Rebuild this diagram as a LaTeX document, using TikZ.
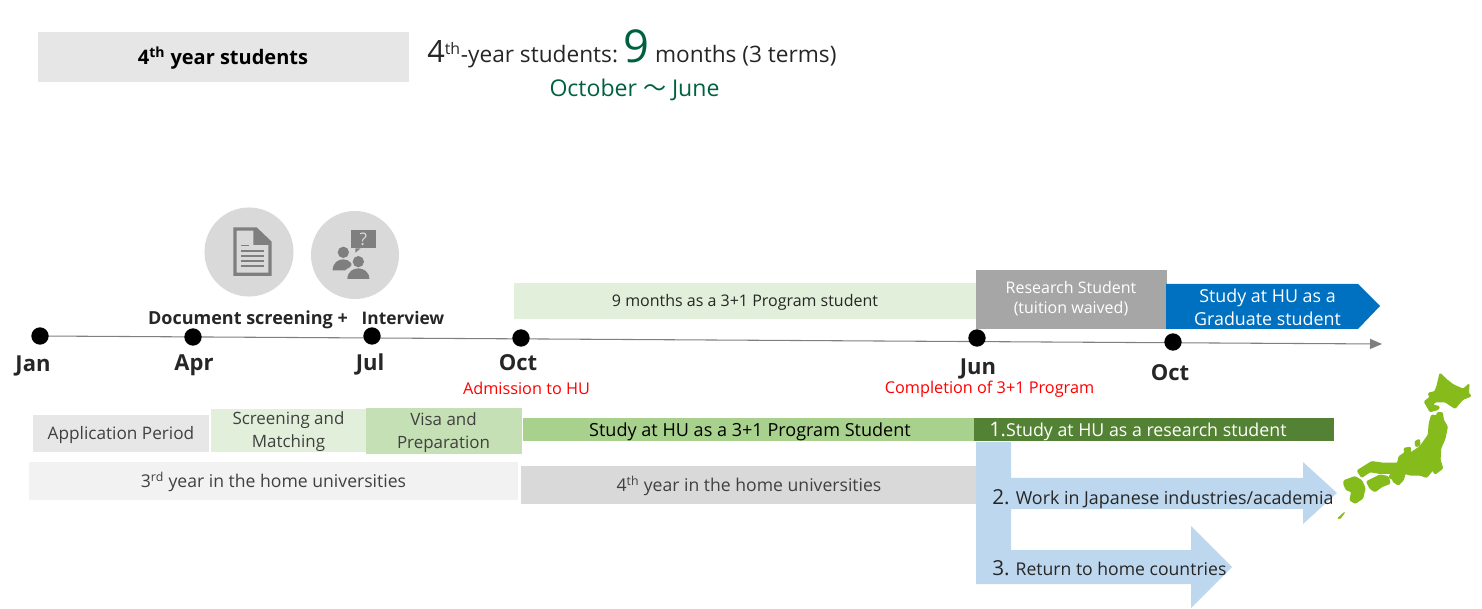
\documentclass[tikz,border=0pt]{standalone}
\usepackage{fontspec}
\setmainfont{Open Sans}
\newfontfamily\cjk{Noto Sans CJK JP}
\usetikzlibrary{arrows.meta}
\definecolor{titlegrey}{HTML}{E6E6E6}
\definecolor{deepgreen}{HTML}{00613F}
\definecolor{ink}{HTML}{262626}
\definecolor{softink}{HTML}{404040}
\definecolor{mapgreen}{HTML}{85BC1B}
\definecolor{skyblue}{HTML}{BDD7EE}
\definecolor{iconbg}{HTML}{D9D9D9}
\definecolor{iconfg}{HTML}{7F7F7F}
\definecolor{palegreen}{HTML}{E2EFDA}
\definecolor{midgreen}{HTML}{C5E0B4}
\definecolor{leafgreen}{HTML}{A9D18E}
\definecolor{darkleaf}{HTML}{548235}
\definecolor{midgrey}{HTML}{A6A6A6}
\definecolor{hublue}{HTML}{0070C0}
\definecolor{appgrey}{HTML}{E7E7E7}
\definecolor{palegrey}{HTML}{F2F2F2}
\definecolor{rowgrey}{HTML}{D9D9D9}
\definecolor{linegrey}{HTML}{7F7F7F}
\newcommand{\fs}[1]{\fontsize{#1}{17}\selectfont}
\tikzset{
  x=0.75pt,y=-0.75pt,
  lbl/.style={inner sep=0pt,outer sep=0pt,align=center,text=softink,font=\fs{12.7}},
  month/.style={inner sep=0pt,align=center,text=ink,font=\fs{16.5}\bfseries},
  redlbl/.style={inner sep=0pt,text=red,font=\fs{12.2}},
  dot/.style={circle,fill=black,minimum size=13pt,inner sep=0pt},
  mapshape/.style={fill=mapgreen,draw=mapgreen,line width=0.9pt,line join=round,rounded corners=0.8pt},
}
\begin{document}
\begin{tikzpicture}
\useasboundingbox (0,0) rectangle (1482,609);
% header
\fill[titlegrey] (38,32) rectangle (409,82);
\node[lbl,text=black,font=\fs{15}\bfseries] (title) at (223,58) {4\textsuperscript{th} year students};
\node[inner sep=0pt,anchor=base west,text=ink,font=\fs{17}] (summary) at (427,63)
  {{\fs{23}4}\textsuperscript{th}-year students:\kern-2pt{} {\fs{34}\color{deepgreen}9} months (3 terms)};
\node[inner sep=0pt,text=deepgreen,font=\fs{17.3}] (period) at (634.5,89.5) {October {\cjk～} June};
% icons
\node[circle,fill=iconbg,minimum size=66.8pt,inner sep=0pt] (doccircle) at (249,252) {};
\node[circle,fill=iconbg,minimum size=66pt,inner sep=0pt] (askcircle) at (355,255) {};
\begin{scope}[shift={(190,200)},x=0.25pt,y=-0.25pt]
  \fill[iconfg,even odd rule] (130,82) -- (200,82) -- (245,125) -- (245,228) -- (130,228) -- cycle
     (140,92) -- (190,92) -- (190,135) -- (235,135) -- (235,218) -- (140,218) -- cycle;
  \fill[iconfg] (200,92) -- (235,125) -- (200,125) -- cycle;
  \fill[iconfg] (153,134) rectangle (176,139);
  \foreach \yy in {150,165,180,195} \fill[iconfg] (153,\yy) rectangle (222,\yy+6);
  \fill[iconfg] (482,90) rectangle (558,145);
  \fill[iconfg] (496,145) -- (496,158) -- (512,145) -- cycle;
  \node[inner sep=0pt,text=iconbg,font=\fs{13}] (ask) at (520,118) {?};
  \fill[iconfg] (460,157) circle[radius=17];
  \fill[iconfg] (428,211) .. controls (428,188) and (445,178) .. (460,178) .. controls (470,178) and (478,182) .. (484,190) .. controls (490,200) and (470,205) .. (465,211) -- cycle;
  \fill[iconfg] (505,185) circle[radius=17];
  \fill[iconfg] (472,237) .. controls (472,215) and (490,205) .. (505,205) .. controls (520,205) and (538,215) .. (538,237) -- cycle;
\end{scope}
% bars over the timeline
\fill[palegreen] (514,283) rectangle (976,319);
\node[lbl,text=ink,font=\fs{12}] (nine) at (745,302.5) {9 months as a 3+1 Program student};
\fill[midgrey] (976,270) rectangle (1167,329);
\node[lbl,text=white,font=\fontsize{12}{15}\selectfont] (research) at (1071,299) {Research Student\\(tuition waived)};
\fill[hublue] (1166,284) -- (1358,284) -- (1380,306) -- (1358,329) -- (1166,329) -- cycle;
\node[lbl,text=white,font=\fs{13.4}] (grad) at (1267.5,307) {Study at HU as a\\Graduate student};
% timeline
\coordinate (tstart) at (40,336);
\coordinate (tend) at (1382,344);
\draw[linegrey,line width=0.8pt,-{Triangle[length=9pt,width=7.5pt]}] (tstart) -- (tend);
\node[dot] (d1) at (40,336) {};
\node[dot] (d2) at (193,337) {};
\node[dot] (d3) at (372,336) {};
\node[dot] (d4) at (521,338) {};
\node[dot] (d5) at (977,338) {};
\node[dot] (d6) at (1173,342) {};
\node[month,font=\fs{13.5}\bfseries] (screen) at (248,319.5) {Document screening +};
\node[month,font=\fs{13}\bfseries] (inter) at (403,318) {Interview};
\node[month] (m1) at (33,365.5) {Jan};
\node[month] (m2) at (194,365) {Apr};
\node[month] (m3) at (370,364) {Jul};
\node[month] (m4) at (518,363) {Oct};
\node[month] (m5) at (978,368.5) {Jun};
\node[month] (m6) at (1170,373) {Oct};
\node[redlbl] (adm) at (526.5,388) {Admission to HU};
\node[redlbl] (comp) at (989.5,389) {Completion of 3+1 Program};
% rows
\fill[appgrey] (33,415) rectangle (209,452);
\node[lbl,font=\fs{12.9}] (app) at (121,435) {Application Period};
\fill[palegreen] (211,409) rectangle (366,452);
\node[lbl] (match) at (288.5,431.5) {Screening and\\Matching};
\fill[midgreen] (366,408) rectangle (522,454);
\node[lbl] (visa) at (443.5,432.5) {Visa and\\Preparation};
\fill[leafgreen] (523,418) rectangle (975,441);
\node[lbl,text=black,font=\fs{13.55}] (study) at (750,432) {Study at HU as a 3+1 Program Student};
\fill[darkleaf] (974,418) rectangle (1334,441);
\node[inner sep=0pt,anchor=base west,text=white,font=\fs{13.35}] (one) at (989,437) {{\fs{15}1.}Study at HU as a research student};
\fill[palegrey] (29,462) rectangle (518,500);
\node[lbl,font=\fs{13.2}] (third) at (273.5,482) {3\textsuperscript{rd} year in the home universities};
\fill[rowgrey] (521,466) rectangle (976,504);
\node[lbl,font=\fs{13.2}] (fourth) at (749,486) {4\textsuperscript{th} year in the home universities};
% outcome arrows
\fill[skyblue] (976,442) -- (1011,442) -- (1011,478) -- (1303,478) -- (1303,462) -- (1337,493) -- (1303,524) -- (1303,509) -- (1011,509) -- (1011,550) -- (1191,550) -- (1191,526) -- (1232,567) -- (1191,608) -- (1191,584) -- (976,584) -- cycle;
\node[inner sep=0pt,anchor=base west,text=ink,font=\fs{13.4}] (two) at (992,504) {{\fs{15.5}2.} Work in Japanese industries/academia};
\node[inner sep=0pt,anchor=base west,text=ink,font=\fs{13.2}] (three) at (992,575) {{\fs{15.5}3.} Return to home countries};
% Japan
\begin{scope}[shift={(1320,360)},x=0.25pt,y=-0.25pt]
  \filldraw[mapshape] (360,40) -- (378,58) -- (400,75) -- (430,88) -- (447,72) -- (445,100) -- (453,108) -- (428,118) -- (405,145) -- (375,125) -- (345,125) -- (338,135) -- (358,140) -- (355,148) -- (330,155) -- (322,140) -- (313,125) -- (330,112) -- (325,100) -- (345,95) -- (352,75) -- cycle;
  \filldraw[mapshape] (335,165) -- (350,168) -- (352,158) -- (367,158) -- (370,180) -- (382,200) -- (375,235) -- (362,265) -- (360,300) -- (368,325) -- (345,342) -- (338,330) -- (320,352) -- (300,345) -- (270,345) -- (255,340) -- (250,360) -- (235,375) -- (220,365) -- (212,340) -- (180,340) -- (150,335) -- (125,352) -- (112,332) -- (155,305) -- (190,310) -- (233,310) -- (237,290) -- (255,278) -- (252,265) -- (272,262) -- (270,280) -- (300,260) -- (325,225) -- (328,190) -- cycle;
  \filldraw[mapshape] (140,365) -- (180,345) -- (205,350) -- (210,370) -- (185,380) -- (165,395) -- (150,385) -- cycle;
  \filldraw[mapshape] (208,345) -- (220,345) -- (220,356) -- (210,356) -- cycle;
  \filldraw[mapshape] (72,362) -- (105,350) -- (125,362) -- (135,385) -- (128,415) -- (105,430) -- (90,420) -- (95,395) -- (80,390) -- (72,375) -- cycle;
  \filldraw[mapshape] (285,245) -- (298,238) -- (300,255) -- (288,260) -- cycle;
  \filldraw[mapshape,line width=0.3pt] (52,475) -- (75,455) -- (70,465) -- (58,478) -- cycle;
\end{scope}
\end{tikzpicture}
\end{document}
